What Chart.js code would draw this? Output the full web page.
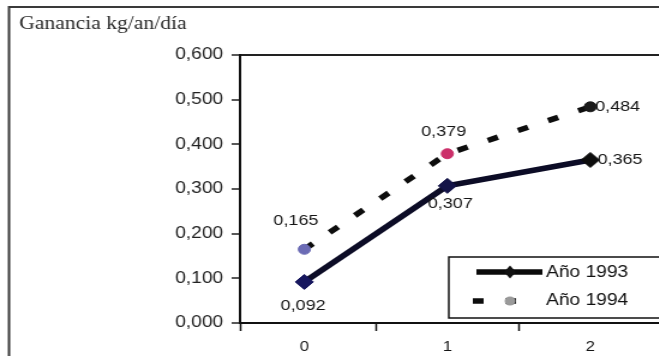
<!DOCTYPE html>
<html lang="es">
<head>
<meta charset="utf-8">
<title>Ganancia kg/an/día</title>
<script src="https://cdn.jsdelivr.net/npm/chart.js@4/dist/chart.umd.min.js"></script>
<style>
  html, body { margin: 0; padding: 0; background: #fff; }
  #wrap { position: relative; width: 659px; height: 356px; overflow: hidden; background: #fff; }
  /* the figure is drawn a little narrow and widened horizontally */
  #stage { position: absolute; left: 0; top: 0; width: 560px; height: 356px;
           transform: scaleX(1.2); transform-origin: 0 0; }
  canvas { display: block; }
</style>
</head>
<body>
<div id="wrap"><div id="stage"><canvas id="chart" width="560" height="356"></canvas></div></div>
<script>
// Ganancia diaria de peso según tratamiento (0, 1, 2), años 1993 y 1994
const categories = ['0', '1', '2'];
const serie1993 = [0.092, 0.307, 0.365];
const serie1994 = [0.165, 0.379, 0.484];
const seriesNames = ['Año 1993', 'Año 1994'];
const yTickValues = [0, 0.1, 0.2, 0.3, 0.4, 0.5, 0.6];
const yTickLabels = ['0,000', '0,100', '0,200', '0,300', '0,400', '0,500', '0,600'];
const titleText = 'Ganancia kg/an/día';

const fmt = v => v.toFixed(3).replace('.', ',');
const toPoints = arr => arr.map((v, i) => ({ x: i, y: v }));

// where each value label sits relative to its point
const labelPlacement = [
  [{ dx: -1, dy: 24, align: 'center' }, { dx: 2.5, dy: 18, align: 'center' }, { dx: 6, dy: 0, align: 'left' }],
  [{ dx: -7, dy: -28, align: 'center' }, { dx: -3, dy: -22, align: 'center' }, { dx: 4, dy: 0, align: 'left' }]
];

const framePlugin = {
  id: 'frame',
  beforeDraw(chart) {
    const { ctx, width, height } = chart;
    ctx.save();
    ctx.fillStyle = '#fff';
    ctx.fillRect(0, 0, width, height);
    ctx.strokeStyle = '#3a3a3a';
    ctx.lineWidth = 2;
    ctx.beginPath();
    ctx.moveTo(7.5, height + 2);
    ctx.lineTo(7.5, 7);
    ctx.lineTo(width + 2, 7);
    ctx.stroke();
    // heading
    ctx.fillStyle = '#2a2a2a';
    ctx.font = '18px "Liberation Serif", "Times New Roman", serif';
    ctx.textAlign = 'left';
    ctx.textBaseline = 'middle';
    ctx.fillText(titleText, 16, 24);
    ctx.restore();
  }
};

const valueLabelsPlugin = {
  id: 'valueLabels',
  afterDatasetsDraw(chart) {
    const { ctx } = chart;
    ctx.save();
    ctx.font = '15px "Liberation Sans", Arial, sans-serif';
    ctx.fillStyle = '#151515';
    ctx.textBaseline = 'middle';
    chart.data.datasets.forEach((ds, di) => {
      const meta = chart.getDatasetMeta(di);
      meta.data.forEach((pt, i) => {
        const p = labelPlacement[di][i];
        ctx.textAlign = p.align;
        ctx.fillText(fmt(ds.data[i].y), pt.x + p.dx, pt.y + p.dy);
      });
    });
    ctx.restore();
  }
};

const legendBoxPlugin = {
  id: 'legendBox',
  afterDraw(chart) {
    const { ctx, width } = chart;
    const ds = chart.data.datasets;
    ctx.save();
    ctx.fillStyle = '#fff';
    ctx.fillRect(374, 257, width - 374 + 4, 61);
    ctx.strokeStyle = '#111';
    ctx.lineWidth = 1.5;
    ctx.strokeRect(374, 257, width - 374 + 4, 61);

    const rows = [272, 301];
    const x0 = 394, x1 = 452, xm = 425, xt = 455;
    ctx.font = '16px "Liberation Sans", Arial, sans-serif';
    ctx.textBaseline = 'middle';
    ctx.textAlign = 'left';

    // row 1: solid line + diamond
    ctx.strokeStyle = '#0a0a0a';
    ctx.lineWidth = ds[0].borderWidth;
    ctx.beginPath(); ctx.moveTo(x0 + 3, rows[0]); ctx.lineTo(x1, rows[0]); ctx.stroke();
    ctx.fillStyle = '#111';
    ctx.beginPath();
    ctx.moveTo(xm, rows[0] - 6.5); ctx.lineTo(xm + 5, rows[0]);
    ctx.lineTo(xm, rows[0] + 6.5); ctx.lineTo(xm - 5, rows[0]); ctx.closePath(); ctx.fill();
    ctx.fillStyle = '#111';
    ctx.fillText(ds[0].label, xt, rows[0] + 1);

    // row 2: dashed line + round marker
    ctx.strokeStyle = ds[1].borderColor;
    ctx.lineWidth = ds[1].borderWidth;
    ctx.setLineDash(ds[1].borderDash);
    ctx.beginPath(); ctx.moveTo(x0, rows[1]); ctx.lineTo(x1 - 6, rows[1]); ctx.stroke();
    ctx.setLineDash([]);
    ctx.fillStyle = '#9a9a9a';
    ctx.beginPath(); ctx.arc(xm, rows[1], 4.5, 0, Math.PI * 2); ctx.fill();
    ctx.fillStyle = '#111';
    ctx.fillText(ds[1].label, xt, rows[1]);
    ctx.restore();
  }
};

new Chart(document.getElementById('chart'), {
  type: 'line',
  data: {
    datasets: [
      {
        label: seriesNames[0],
        data: toPoints(serie1993),
        borderColor: '#0c0c26',
        borderWidth: 5.5,
        pointStyle: 'rectRot',
        pointRadius: 7.5,
        pointBackgroundColor: ['#17175e', '#141448', '#0d0d0d'],
        pointBorderColor: ['#17175e', '#141448', '#0d0d0d'],
        pointBorderWidth: 1,
        tension: 0
      },
      {
        label: seriesNames[1],
        data: toPoints(serie1994),
        borderColor: '#0d0d0d',
        borderWidth: 5.5,
        borderDash: [9, 18],
        pointStyle: 'circle',
        pointRadius: 5,
        pointBackgroundColor: ['#6b6bb5', '#cc2f6a', '#1a1a1a'],
        pointBorderColor: ['#6b6bb5', '#cc2f6a', '#1a1a1a'],
        pointBorderWidth: 1,
        tension: 0
      }
    ]
  },
  options: {
    responsive: false,
    animation: false,
    devicePixelRatio: 1,
    layout: { padding: { top: 55, right: 6, left: 0, bottom: 0 } },
    plugins: {
      legend: { display: false },
      tooltip: { enabled: false },
      title: { display: false }
    },
    scales: {
      x: {
        type: 'linear',
        min: -0.45,
        max: 2.5,
        afterBuildTicks(scale) {
          const vals = [scale.min];
          categories.forEach((c, i) => { vals.push(i); vals.push(i + 0.5); });
          scale.ticks = vals.sort((a, b) => a - b).map(v => ({ value: v }));
        },
        afterFit(scale) { scale.height = 33; },
        border: { display: true, color: '#111', width: 2 },
        grid: {
          drawOnChartArea: false,
          drawTicks: true,
          tickLength: 8,
          tickWidth: 1.5,
          tickColor: ctx => (ctx.tick && Number.isInteger(ctx.tick.value)) ? 'rgba(0,0,0,0)' : '#111'
        },
        ticks: {
          autoSkip: false,
          maxRotation: 0,
          padding: 8,
          color: '#151515',
          font: { family: '"Liberation Sans", Arial, sans-serif', size: 14 },
          callback: v => Number.isInteger(v) ? categories[v] : ''
        }
      },
      y: {
        min: 0,
        max: 0.6,
        afterBuildTicks(scale) { scale.ticks = yTickValues.map(v => ({ value: v })); },
        afterFit(scale) { scale.width = 200; },
        border: { display: true, color: '#111', width: 2 },
        grid: {
          drawOnChartArea: true,
          drawTicks: true,
          tickLength: 7,
          lineWidth: 2,
          tickWidth: 1.5,
          color: ctx => (ctx.tick && Math.abs(ctx.tick.value - 0.6) < 1e-9) ? '#222' : 'rgba(0,0,0,0)',
          tickColor: '#222'
        },
        ticks: {
          padding: 7,
          color: '#222',
          font: { family: '"Liberation Sans", Arial, sans-serif', size: 16 },
          callback: (v, i) => yTickLabels[i]
        }
      }
    }
  },
  plugins: [framePlugin, valueLabelsPlugin, legendBoxPlugin]
});
</script>
</body>
</html>
